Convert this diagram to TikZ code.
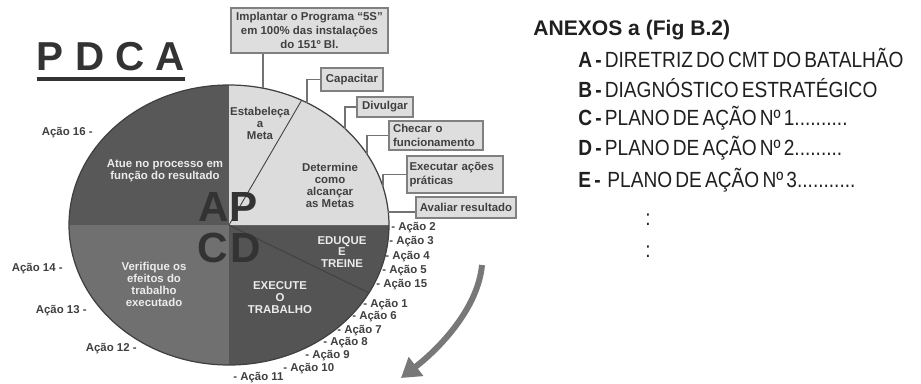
\documentclass[tikz,border=0pt]{standalone}
\usepackage{fontspec}
\setmainfont{Liberation Sans}
\newfontfamily\narrowfont[FakeStretch=0.87,WordSpace=0.6]{Liberation Sans}
\usetikzlibrary{arrows.meta,calc}

\definecolor{inkgray}{HTML}{333333}
\definecolor{actgray}{HTML}{585858}
\definecolor{chkgray}{HTML}{707070}
\definecolor{dogray}{HTML}{545454}
\definecolor{plangray}{HTML}{DCDCDC}
\definecolor{boxgray}{HTML}{DEDEDE}
\definecolor{arrowgray}{HTML}{787878}

\begin{document}
\begin{tikzpicture}[x=0.02cm,y=0.02cm,>=Latex,
  callbox/.style={draw=black!50,line width=0.8pt,fill=boxgray,align=center,font=\fontsize{6.5}{7.8}\selectfont\bfseries,text=black!75,inner sep=0pt},
  actlabel/.style={font=\fontsize{6.5}{7}\selectfont\bfseries,text=black!75,inner sep=0pt},
  darktext/.style={align=center,font=\fontsize{6.5}{6.8}\selectfont\bfseries,text=black!75,inner sep=0pt},
  lighttext/.style={align=center,font=\fontsize{6.5}{6.8}\selectfont\bfseries,text=white!92!black,inner sep=0pt},
  bigletter/.style={font=\fontsize{24}{24}\selectfont\bfseries,text=inkgray,inner sep=0pt},
  anxline/.style={anchor=west,font=\fontsize{12.5}{13}\selectfont\narrowfont,text=black!88,inner sep=0pt},
  pinline/.style={draw=black!55,line width=0.9pt},
  cutline/.style={draw=black!75,line width=0.5pt},
  flowarrow/.style={draw=arrowgray,line width=3.4pt,-{Triangle[length=0.38cm,width=0.46cm]}}]
\useasboundingbox (0,0) rectangle (921,383);

% pie of the cycle
\coordinate (pd_c) at (229,158);
\fill[actgray] (pd_c) -- ++(90:160 and 140) arc[start angle=90,end angle=180,x radius=160,y radius=140] -- cycle;
\fill[chkgray] (pd_c) -- ++(180:160 and 140) arc[start angle=180,end angle=270,x radius=160,y radius=140] -- cycle;
\fill[dogray] (pd_c) -- ++(270:160 and 140) arc[start angle=270,end angle=360,x radius=160,y radius=140] -- cycle;
\fill[plangray] (pd_c) -- ++(0:160 and 140) arc[start angle=0,end angle=90,x radius=160,y radius=140] -- cycle;
\draw[cutline] (pd_c) -- ++(63:160 and 140);
\draw[cutline] (pd_c) -- ++(-29:160 and 140);
\draw[draw=black!75,line width=0.7pt] (pd_c) ellipse[x radius=160,y radius=140];

% title
\node[font=\fontsize{23}{23}\selectfont\bfseries,text=inkgray,inner sep=0pt] (pd_title) at (111,326) {P D C A};
\draw[inkgray,line width=2.3pt] ([yshift=-4pt]pd_title.south west) -- ([yshift=-4pt]pd_title.south east);

% big letters
\node[bigletter] (pd_a) at (214,176) {A};
\node[bigletter] (pd_p) at (244,176) {P};
\node[bigletter] (pd_cc) at (213,135) {C};
\node[bigletter] (pd_d) at (246,135) {D};

% sector texts
\node[lighttext] (sec_atue) at (165,212) {Atue no processo em\\função do resultado};
\node[lighttext] (sec_verif) at (154,99) {Verifique os\\efeitos do\\trabalho\\executado};
\node[lighttext] (sec_exec) at (280,85) {EXECUTE\\O\\TRABALHO};
\node[lighttext] (sec_edu) at (342,131) {EDUQUE\\E\\TREINE};
\node[darktext] (sec_meta) at (260,260) {Estabeleça\\a\\Meta};
\node[darktext] (sec_det) at (330,198) {Determine\\como\\alcançar\\as Metas};

% callout boxes
\node[callbox,minimum width=3.14cm,minimum height=0.9cm] (box_impl) at (309.5,352.5) {Implantar o Programa ``5S''\\em 100\% das instalações\\do 151º Bl.};
\node[callbox,minimum width=1.24cm,minimum height=0.46cm] (box_cap) at (352,303.5) {Capacitar};
\node[callbox,minimum width=1.12cm,minimum height=0.4cm] (box_div) at (385,276) {Divulgar};
\node[callbox,align=left,text width=1.72cm,inner xsep=0.08cm,minimum height=0.58cm] (box_chk) at (436,247.5) {Checar o\\funcionamento};
\node[callbox,align=left,text width=1.82cm,inner xsep=0.05cm,minimum height=0.74cm] (box_exe) at (455,208.5) {Executar ações\\práticas};
\node[callbox,minimum width=2.0cm,minimum height=0.42cm] (box_aval) at (466,175.5) {Avaliar resultado};

% pins from the rim to the boxes
\coordinate (rim_impl) at ($(pd_c)+(77.7:160 and 140)$);
\coordinate (rim_cap) at ($(pd_c)+(60.8:160 and 140)$);
\coordinate (rim_div) at ($(pd_c)+(43.5:160 and 140)$);
\coordinate (rim_chk) at ($(pd_c)+(30.4:160 and 140)$);
\coordinate (rim_exe) at ($(pd_c)+(15.8:160 and 140)$);
\coordinate (rim_aval) at ($(pd_c)+(5.3:160 and 140)$);
\draw[pinline] (rim_impl) -- (rim_impl |- box_impl.south);
\draw[pinline] (box_cap.west) -| (rim_cap);
\draw[pinline] (box_div.west) -| (rim_div);
\draw[pinline] (box_chk.west) -| (rim_chk);
\draw[pinline] (box_exe.west) -| (rim_exe);
\draw[pinline] (rim_aval) -- (rim_aval -| box_aval.west);

% actions round the rim
\foreach \n/\px/\py in {2/391/155,3/389/141,4/385/126,5/382/112,15/376/98,1/363/78,6/352/66,7/337/52,8/323/40,9/305/27,10/283/14,11/233/5}
  \node[actlabel,anchor=west] (act_\n) at (\px,\py) {- Ação \n};
\foreach \n/\px/\py in {16/93/250,14/63/114,13/87/72,12/137/34}
  \node[actlabel,anchor=east] (act_\n) at (\px,\py) {Ação \n{} -};

% turning arrow
\coordinate (arr_s) at (482,118);
\coordinate (arr_e) at (401,5);
\draw[flowarrow] (arr_s) .. controls (478,75) and (440,35) .. (arr_e);

% annex list
\node[anchor=west,font=\fontsize{12}{13}\selectfont\bfseries,text=black!88,inner sep=0pt] (anx_head) at (533,353) {ANEXOS a (Fig B.2)};
\node[anxline] (anx_a) at (578,325) {\textbf{A -} DIRETRIZ DO CMT DO BATALHÃO};
\node[anxline] (anx_b) at (578,295) {\textbf{B -} DIAGNÓSTICO ESTRATÉGICO};
\node[anxline] (anx_c) at (578,265) {\textbf{C -} PLANO DE AÇÃO Nº 1..........};
\node[anxline] (anx_d) at (578,235) {\textbf{D -} PLANO DE AÇÃO Nº 2.........};
\node[anxline] (anx_e) at (578,203) {\textbf{E -}\, PLANO DE AÇÃO Nº 3...........};
\node[anxline,anchor=center] (anx_dots1) at (648,163) {:};
\node[anxline,anchor=center] (anx_dots2) at (648,131) {:};
\end{tikzpicture}
\end{document}
